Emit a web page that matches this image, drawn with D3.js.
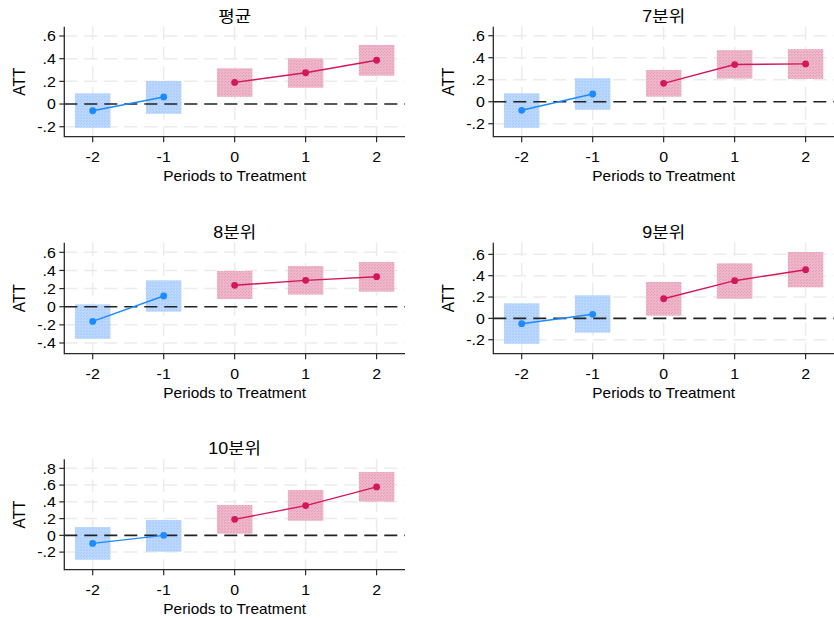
<!DOCTYPE html>
<html>
<head>
<meta charset="utf-8">
<script src="https://cdn.jsdelivr.net/npm/d3@7"></script>
<style>
  html, body { margin: 0; padding: 0; background: #fff; }
  svg { display: block; }
  text { font-family: "Liberation Sans", Arial, "Noto Sans CJK KR", sans-serif; fill: #000; }
</style>
</head>
<body>
<svg id="chart" width="834" height="618"></svg>
<script>
// ---------- data ----------
const periods = [-2, -1, 0, 1, 2];
const xTickLabels = ["-2", "-1", "0", "1", "2"];
const panelTitles = ["평균", "7분위", "8분위", "9분위", "10분위"];

const attMean = [-0.059, 0.062, 0.191, 0.276, 0.386];
const loMean  = [-0.209, -0.086, 0.064, 0.144, 0.250];
const hiMean  = [0.094, 0.203, 0.315, 0.403, 0.521];

const att7 = [-0.078, 0.070, 0.167, 0.338, 0.344];
const lo7  = [-0.237, -0.073, 0.046, 0.210, 0.207];
const hi7  = [0.076, 0.213, 0.289, 0.469, 0.478];

const att8 = [-0.162, 0.118, 0.236, 0.291, 0.331];
const lo8  = [-0.354, -0.055, 0.085, 0.133, 0.166];
const hi8  = [0.026, 0.291, 0.394, 0.449, 0.494];

const att9 = [-0.050, 0.038, 0.184, 0.353, 0.456];
const lo9  = [-0.238, -0.134, 0.025, 0.184, 0.291];
const hi9  = [0.141, 0.216, 0.341, 0.516, 0.622];

const att10 = [-0.096, 0.000, 0.191, 0.355, 0.578];
const lo10  = [-0.291, -0.195, 0.020, 0.175, 0.402];
const hi10  = [0.100, 0.183, 0.363, 0.542, 0.757];

// y axis ranges and tick values per panel
const yRangeMean = [-0.288, 0.682], yTicksMean = [-0.2, 0, 0.2, 0.4, 0.6];
const yRange7 = [-0.318, 0.682],    yTicks7 = [-0.2, 0, 0.2, 0.4, 0.6];
const yRange8 = [-0.518, 0.706],    yTicks8 = [-0.4, -0.2, 0, 0.2, 0.4, 0.6];
const yRange9 = [-0.331, 0.709],    yTicks9 = [-0.2, 0, 0.2, 0.4, 0.6];
const yRange10 = [-0.41, 0.908],    yTicks10 = [-0.2, 0, 0.2, 0.4, 0.6, 0.8];

const xLabel = "Periods to Treatment";
const yLabel = "ATT";

// ---------- build ----------
const series = [
  { title: panelTitles[0], att: attMean, lo: loMean, hi: hiMean, yr: yRangeMean, yt: yTicksMean },
  { title: panelTitles[1], att: att7, lo: lo7, hi: hi7, yr: yRange7, yt: yTicks7 },
  { title: panelTitles[2], att: att8, lo: lo8, hi: hi8, yr: yRange8, yt: yTicks8 },
  { title: panelTitles[3], att: att9, lo: lo9, hi: hi9, yr: yRange9, yt: yTicks9 },
  { title: panelTitles[4], att: att10, lo: lo10, hi: hi10, yr: yRange10, yt: yTicks10 }
];

// layout
const layout = [
  { left: 64.3, top: 26.7, w: 340.7, h: 110 },
  { left: 493.3, top: 26.7, w: 340.7, h: 110 },
  { left: 64.3, top: 242.7, w: 340.7, h: 111 },
  { left: 493.3, top: 242.7, w: 340.7, h: 111 },
  { left: 64.3, top: 459.3, w: 340.7, h: 110.4 }
];

const blueLine = "#1c8bff", blueBox = "#b9d7ff", blueDot = "#a6c9f5";
const redLine = "#d4165a", redBox = "#efb5c9", redDot = "#e39fb8";
const gridCol = "#ebebeb", axisCol = "#2a2a2a";

const svg = d3.select("#chart");
const defs = svg.append("defs");
function makePattern(id, base, dot) {
  const p = defs.append("pattern").attr("id", id).attr("width", 3).attr("height", 3)
    .attr("patternUnits", "userSpaceOnUse");
  p.append("rect").attr("width", 3).attr("height", 3).attr("fill", base);
  p.append("rect").attr("x", 0).attr("y", 0).attr("width", 1).attr("height", 1).attr("fill", dot);
  p.append("rect").attr("x", 2).attr("y", 1).attr("width", 1).attr("height", 1).attr("fill", dot);
}
makePattern("patBlue", blueBox, blueDot);
makePattern("patRed", redBox, redDot);

const fmt = v => {
  const r = Math.round(v * 10) / 10;
  if (Math.abs(r) < 1e-9) return "0";
  return (r < 0 ? "-" : "") + String(Math.abs(r)).replace(/^0/, "");
};

const dash = "13,7";
const SX = 1.1;
const TF = 14.5;

series.forEach((s, i) => {
  const L = layout[i];
  const x = d3.scaleLinear().domain([-2.4, 2.4]).range([L.left, L.left + L.w]);
  const y = d3.scaleLinear().domain(s.yr).range([L.top + L.h, L.top]);
  const g = svg.append("g");
  const bottom = L.top + L.h, right = L.left + L.w;

  // grid
  g.selectAll(".hg").data(s.yt.filter(v => v !== 0)).enter().append("line")
    .attr("x1", L.left).attr("x2", right)
    .attr("y1", d => y(d)).attr("y2", d => y(d))
    .attr("stroke", gridCol).attr("stroke-width", 1.5).attr("stroke-dasharray", dash);
  g.selectAll(".vg").data(periods).enter().append("line")
    .attr("x1", d => x(d)).attr("x2", d => x(d))
    .attr("y1", L.top).attr("y2", bottom)
    .attr("stroke", gridCol).attr("stroke-width", 1.5).attr("stroke-dasharray", dash);

  // CI boxes
  const rows = periods.map((p, k) => ({ p, att: s.att[k], lo: s.lo[k], hi: s.hi[k] }));
  g.selectAll(".box").data(rows).enter().append("rect")
    .attr("x", d => x(d.p - 0.25))
    .attr("width", d => x(d.p + 0.25) - x(d.p - 0.25))
    .attr("y", d => y(d.hi))
    .attr("height", d => y(d.lo) - y(d.hi))
    .attr("fill", d => d.p < 0 ? "url(#patBlue)" : "url(#patRed)");

  // zero line
  g.append("line").attr("x1", L.left).attr("x2", right)
    .attr("y1", y(0)).attr("y2", y(0))
    .attr("stroke", "#222").attr("stroke-width", 1.6).attr("stroke-dasharray", dash);

  // lines
  const line = d3.line().x(d => x(d.p)).y(d => y(d.att));
  const pre = rows.filter(d => d.p < 0), post = rows.filter(d => d.p >= 0);
  g.append("path").datum(pre).attr("d", line).attr("fill", "none")
    .attr("stroke", blueLine).attr("stroke-width", 1.4);
  g.append("path").datum(post).attr("d", line).attr("fill", "none")
    .attr("stroke", redLine).attr("stroke-width", 1.4);
  g.selectAll(".pt").data(rows).enter().append("circle")
    .attr("cx", d => x(d.p)).attr("cy", d => y(d.att)).attr("r", 3.4)
    .attr("fill", d => d.p < 0 ? blueLine : redLine);

  // axes
  g.append("line").attr("x1", L.left).attr("x2", L.left).attr("y1", L.top).attr("y2", bottom + 0.6)
    .attr("stroke", axisCol).attr("stroke-width", 1.3);
  g.append("line").attr("x1", L.left).attr("x2", right).attr("y1", bottom).attr("y2", bottom)
    .attr("stroke", axisCol).attr("stroke-width", 1.3);

  // y ticks
  g.selectAll(".yt").data(s.yt).enter().append("line")
    .attr("x1", L.left - 5).attr("x2", L.left).attr("y1", d => y(d)).attr("y2", d => y(d))
    .attr("stroke", axisCol).attr("stroke-width", 1.2);
  g.selectAll(".ytl").data(s.yt).enter().append("text")
    .attr("transform", d => `translate(${L.left - 8.5},${y(d) + 5.2}) scale(${SX},1)`)
    .attr("text-anchor", "end").attr("font-size", TF).text(d => fmt(d));

  // x ticks
  g.selectAll(".xt").data(periods).enter().append("line")
    .attr("x1", d => x(d)).attr("x2", d => x(d)).attr("y1", bottom).attr("y2", bottom + 5.5)
    .attr("stroke", axisCol).attr("stroke-width", 1.2);
  g.selectAll(".xtl").data(periods).enter().append("text")
    .attr("transform", (d, k) => `translate(${x(d)},${bottom + 25.3}) scale(${SX},1)`)
    .attr("text-anchor", "middle").attr("font-size", TF).text((d, k) => xTickLabels[k]);

  // axis titles
  g.append("text")
    .attr("transform", `translate(${(L.left + right) / 2},${bottom + 44.5}) scale(1.06,1)`)
    .attr("text-anchor", "middle").attr("font-size", 14.5).text(xLabel);
  g.append("text")
    .attr("transform", `translate(${L.left - 39.5},${(L.top + bottom) / 2}) rotate(-90) scale(1,1.12)`)
    .attr("text-anchor", "middle").attr("font-size", 15.5).text(yLabel);

  // panel title
  g.append("text")
    .attr("transform", `translate(${(L.left + right) / 2},${L.top - 5}) scale(1.12,1)`)
    .attr("text-anchor", "middle").attr("font-size", 16).text(s.title);
});
</script>
</body>
</html>
